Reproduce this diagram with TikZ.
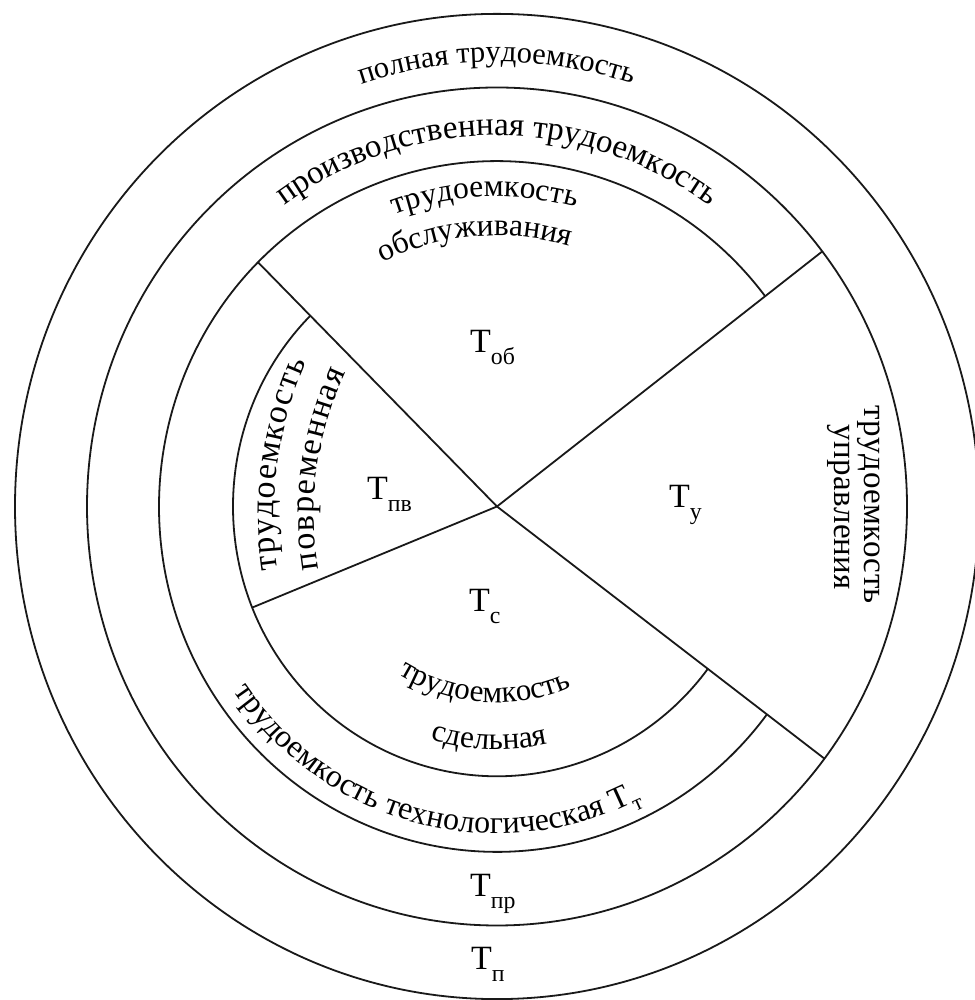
\documentclass[tikz,border=0pt]{standalone}
\usepackage{fontspec}
\setmainfont{Liberation Serif}
\usepackage{graphicx}
\usetikzlibrary{decorations.text,calc}
\newcommand{\Tsb}[1]{Т\raisebox{-0.34em}{\scalebox{0.7}{#1}}}
\begin{document}
\begin{tikzpicture}[x=1pt,y=1pt,
  ln/.style={line width=1.8pt,draw=black!90},
  lab/.style={font=\fontsize{34}{36}\selectfont, inner sep=0pt, anchor=base west}]
\useasboundingbox (0,0) rectangle (974,1000);
\fill[white] (0,0) rectangle (974,1000);
\coordinate (C) at (497,493.5);
\coordinate (P) at (650,485);
% circles
\draw[ln] (C) ellipse [x radius=482pt, y radius=492.6pt];
\draw[ln] (C) ellipse [x radius=410pt, y radius=419pt];
\draw[ln] (C) ++(37.5:338pt and 345.4pt) arc[start angle=37.5, end angle=323, x radius=338pt, y radius=345.4pt];
\draw[ln] (C) ++(135:264pt and 269.8pt) arc[start angle=135, end angle=323, x radius=264pt, y radius=269.8pt];
% rays
\path (C) ++(135:338pt and 345.4pt) coordinate (A);
\path (C) ++(37.5:410pt and 419pt) coordinate (B);
\path (C) ++(-37:410pt and 419pt) coordinate (Cc);
\path (C) ++(202:264pt and 269.8pt) coordinate (D);
\draw[ln] (C) -- (A);
\draw[ln] (C) -- (B);
\draw[ln] (C) -- (Cc);
\draw[ln] (C) -- (D);
% curved texts
\path[decorate,decoration={text along path, text align=center,
  text={|\fontsize{30.5}{31}\selectfont|полная трудоемкость}}]
  (C) ++(125:435pt and 444.6pt) arc[start angle=125, end angle=55, x radius=435pt, y radius=444.6pt];
\path[decorate,decoration={text along path, text align=center,
  text={|\fontsize{33}{34}\selectfont|производственная трудоемкость}}]
  (C) ++(140:363pt and 371pt) arc[start angle=140, end angle=40, x radius=363pt, y radius=371pt];
\path[decorate,decoration={text along path, text align=center,
  text={|\fontsize{31.5}{32}\selectfont|трудоемкость}}]
  (C) ++(122.3:303pt and 309.7pt) arc[start angle=122.3, end angle=62.3, x radius=303pt, y radius=309.7pt];
\path[decorate,decoration={text along path, text align=center,
  text={|\fontsize{31.5}{32}\selectfont|обслуживания}}]
  (C) ++(129.85:265pt and 270.8pt) arc[start angle=129.85, end angle=59.85, x radius=265pt, y radius=270.8pt];
\path[decorate,decoration={text along path, text align=center,
  text={|\fontsize{31}{32}\selectfont|трудоемкость}}]
  (C) ++(226:192pt and 196.2pt) arc[start angle=226, end angle=306, x radius=192pt, y radius=196.2pt];
\path[decorate,decoration={text along path, text align=center,
  text={|\fontsize{31.4}{32}\selectfont|сдельная}}]
  (C) ++(238:238pt and 243.2pt) arc[start angle=238, end angle=298, x radius=238pt, y radius=243.2pt];
\path[decorate,decoration={text along path, text align=center,
  text={|\fontsize{32}{33}\selectfont|трудоемкость технологическая {Т\raisebox{-0.3em}{\scalebox{0.7}{т}}}}}]
  (C) ++(195.7:320pt and 327pt) arc[start angle=195.7, end angle=315.7, x radius=320pt, y radius=327pt];
% left vertical texts
\path[decorate,decoration={text along path, text align={fit to path},
  text={|\fontsize{34}{35}\selectfont|трудоемкость}}]
  (P) ++(188.4:376pt) arc[start angle=188.4, end angle=156.1, radius=376pt];
\path[decorate,decoration={text along path, text align={fit to path},
  text={|\fontsize{34}{35}\selectfont|повременная}}]
  (P) ++(189.3:336pt) arc[start angle=189.3, end angle=154.9, radius=336pt];
% right vertical texts
\coordinate (R1a) at (864,594);
\coordinate (R1b) at (864,396);
\coordinate (R2a) at (834,575);
\coordinate (R2b) at (834,410);
\path[decorate,decoration={text along path, text align={fit to path},
  text={|\fontsize{33}{34}\selectfont|трудоемкость}}] (R1a) -- (R1b);
\path[decorate,decoration={text along path, text align={fit to path},
  text={|\fontsize{33}{34}\selectfont|управления}}] (R2a) -- (R2b);
% labels
\node[lab] (Tob) at (470,647) {\Tsb{об}};
\node[lab] (Tpv) at (367,500) {\Tsb{пв}};
\node[lab] (Ts) at (469,388) {\Tsb{с}};
\node[lab] (Ty) at (669,492) {\Tsb{у}};
\node[lab] (Tpr) at (470,103) {\Tsb{пр}};
\node[lab] (Tp) at (471,30) {\Tsb{п}};
\end{tikzpicture}
\end{document}
